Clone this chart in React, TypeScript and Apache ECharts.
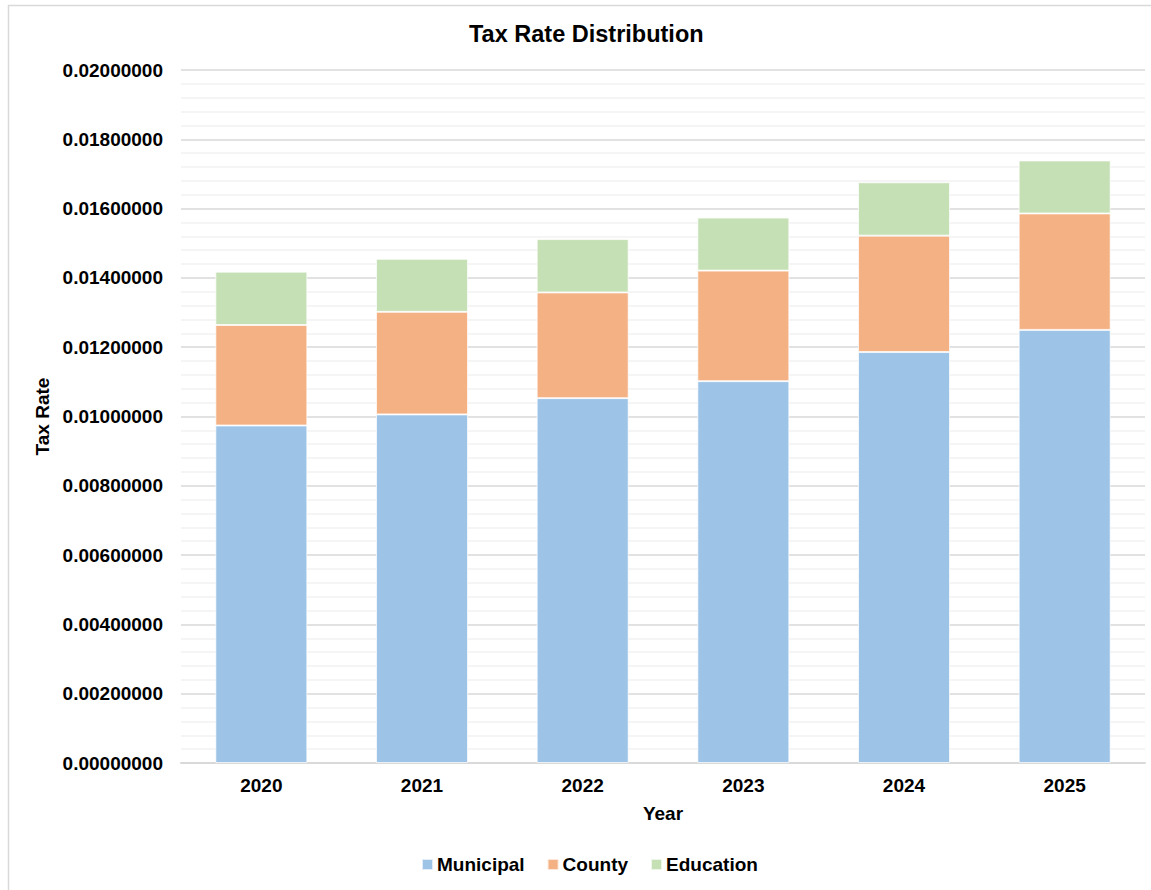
import React, { useEffect, useRef } from "react";
import * as echarts from "echarts";

const years = ["2020", "2021", "2022", "2023", "2024", "2025"];
const municipal = [0.00974, 0.01006, 0.01053, 0.01102, 0.01186, 0.0125];
const county = [0.0029, 0.00296, 0.00305, 0.00319, 0.00336, 0.00336];
const education = [0.00154, 0.00153, 0.00154, 0.00153, 0.00154, 0.00153];
const seriesNames = ["Municipal", "County", "Education"];
const seriesColors = ["#9DC3E6", "#F4B183", "#C5E0B4"];

const FONT = "'Liberation Sans', Arial, Helvetica, sans-serif";

export default function App() {
  const ref = useRef<HTMLDivElement>(null);

  useEffect(() => {
    document.body.style.margin = "0";
    if (!ref.current) return;
    const chart = echarts.init(ref.current, undefined, { renderer: "svg" });
    const data = [municipal, county, education];
    chart.setOption({
      animation: false,
      backgroundColor: "#ffffff",
      textStyle: { fontFamily: FONT },
      title: {
        text: "Tax Rate Distribution",
        left: 464,
        top: 17,
        textStyle: { fontFamily: FONT, fontSize: 23.5, fontWeight: "bold", color: "#000" },
      },
      graphic: [
        {
          type: "rect",
          shape: { x: 8.5, y: 5.5, width: 1200, height: 1000 },
          style: { fill: "none", stroke: "#D9D9D9", lineWidth: 1.5 },
          silent: true,
          z: -1,
        },
      ],
      legend: {
        data: seriesNames,
        left: 416,
        top: 850,
        itemWidth: 11,
        itemHeight: 11,
        itemGap: 22,
        icon: "rect",
        textStyle: { fontFamily: FONT, fontSize: 19, fontWeight: "bold", color: "#000", padding: [0, 0, 0, -1] },
      },
      grid: { left: 181, right: 6, top: 70, bottom: 127, containLabel: false },
      xAxis: {
        type: "category",
        data: years,
        name: "Year",
        nameLocation: "middle",
        nameGap: 41,
        nameTextStyle: { fontFamily: FONT, fontSize: 19, fontWeight: "bold", color: "#000" },
        axisLine: { show: true, lineStyle: { color: "#D9D9D9", width: 2 } },
        axisTick: { show: false },
        axisLabel: { fontFamily: FONT, fontSize: 19, fontWeight: "bold", color: "#000", margin: 13 },
      },
      yAxis: {
        type: "value",
        min: 0,
        max: 0.02,
        interval: 0.002,
        name: "Tax Rate",
        nameLocation: "middle",
        nameRotate: 90,
        nameGap: 126,
        nameTextStyle: { fontFamily: FONT, fontSize: 19, fontWeight: "bold", color: "#000" },
        axisLine: { show: false },
        axisTick: { show: false },
        axisLabel: {
          fontFamily: FONT,
          fontSize: 19,
          fontWeight: "bold",
          color: "#000",
          margin: 18,
          formatter: (v: number) => v.toFixed(8),
        },
        splitLine: { show: true, lineStyle: { color: "#D9D9D9", width: 1.5 } },
        minorTick: { show: false, splitNumber: 5 },
        minorSplitLine: { show: true, lineStyle: { color: "#F2F2F2", width: 1.5 } },
      },
      series: seriesNames.map((name, i) => ({
        name,
        type: "bar",
        stack: "total",
        barWidth: 92,
        data: data[i],
        itemStyle: {
          color: seriesColors[i],
          borderColor: "rgba(255,255,255,0.7)",
          borderWidth: 1,
        },
      })),
    });
    return () => chart.dispose();
  }, []);

  return <div ref={ref} style={{ width: 1151, height: 890 }} />;
}
